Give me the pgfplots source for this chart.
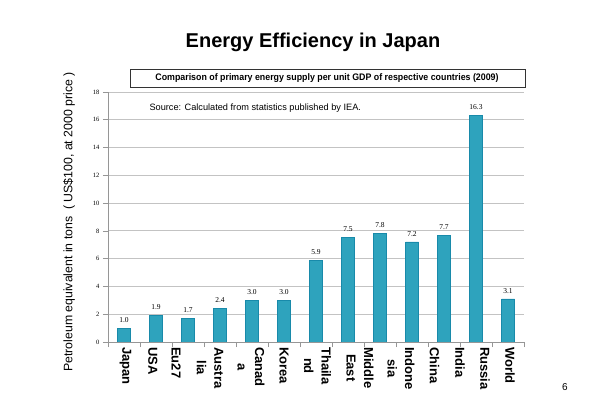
\documentclass[border=0pt]{standalone}
\usepackage{fontspec}
\setmainfont{Liberation Sans}
\newfontfamily\numfont{Liberation Serif}
\usepackage{graphicx}
\usepackage{pgfplots}
\pgfplotsset{compat=1.18}
\definecolor{barfill}{RGB}{46,163,189}
\definecolor{baredge}{RGB}{24,138,170}
\definecolor{gridgray}{RGB}{195,195,195}
\definecolor{axgray}{RGB}{150,150,150}
\begin{document}
\begin{tikzpicture}
\useasboundingbox (-108pt,-73pt) rectangle (492pt,342pt);
\begin{axis}[
  at={(0pt,0pt)}, anchor=south west,
  scale only axis, width=416pt, height=250pt,
  xmin=-0.5, xmax=12.5, ymin=0, ymax=18,
  axis x line*=bottom, axis y line*=left,
  axis line style={draw=axgray, line width=0.6pt},
  ymajorgrids, grid style={draw=gridgray, line width=0.8pt},
  ytick={0,2,...,18},
  minor ytick={0,2,...,18},
  minor xtick={-0.5,0.5,...,12.5},
  xtick={0.05,0.90,1.625,2.69,3.97,5.0,6.05,7.375,8.66,9.70,10.5,11.28,12.06},
  xticklabels={Japan,USA,Eu27,{Austra\\lia},{Canad\\a},Korea,{Thaila\\nd},{Middle\\East},{Indone\\sia},China,India,Russia,World},
  major tick length=0pt, minor tick length=5pt, tick align=outside,
  minor tick style={draw=axgray, line width=0.6pt},
  /pgf/number format/assume math mode=true,
  yticklabel style={font=\numfont\fontsize{6.5}{7}\selectfont, xshift=-5pt},
  xticklabel style={font=\bfseries\fontsize{13}{17.5}\selectfont, rotate=-90, anchor=west, align=center, inner sep=2pt, xshift=3pt},
  nodes near coords={\pgfmathprintnumber[fixed,fixed zerofill,precision=1,assume math mode=true]{\pgfplotspointmeta}},
  nodes near coords style={font=\numfont\fontsize{7.5}{8}\selectfont, yshift=2pt},
]
\addplot[ybar, bar width=13pt, fill=barfill, draw=baredge, line width=0.8pt] coordinates {
  (0,1.0) (1,1.9) (2,1.7) (3,2.4) (4,3.0) (5,3.0) (6,5.9)
  (7,7.5) (8,7.8) (9,7.2) (10,7.7) (11,16.3) (12,3.1)
};
\end{axis}
\node[font=\bfseries\fontsize{20}{24}\selectfont, anchor=base] at (205pt,294pt) {Energy Efficiency in Japan};
\draw[line width=0.8pt, draw=black!80] (22pt,255pt) rectangle (417pt,273pt);
\node[anchor=base, font=\bfseries\fontsize{9.5}{11}\selectfont] at (219pt,261pt) {\scalebox{0.93}[1]{Comparison of primary energy supply per unit GDP of respective countries (2009)}};
\node[anchor=base west, font=\fontsize{9.2}{11}\selectfont] at (38pt,231pt) {Source: Calculated from statistics published by IEA.};
\node[rotate=90, font=\fontsize{12.3}{14}\selectfont] at (-39pt,120pt) {Petroleum equivalent in tons \ ( US\$100, at 2000 price )};
\node[font=\fontsize{10}{12}\selectfont] at (457pt,-45pt) {6};
\end{tikzpicture}
\end{document}
